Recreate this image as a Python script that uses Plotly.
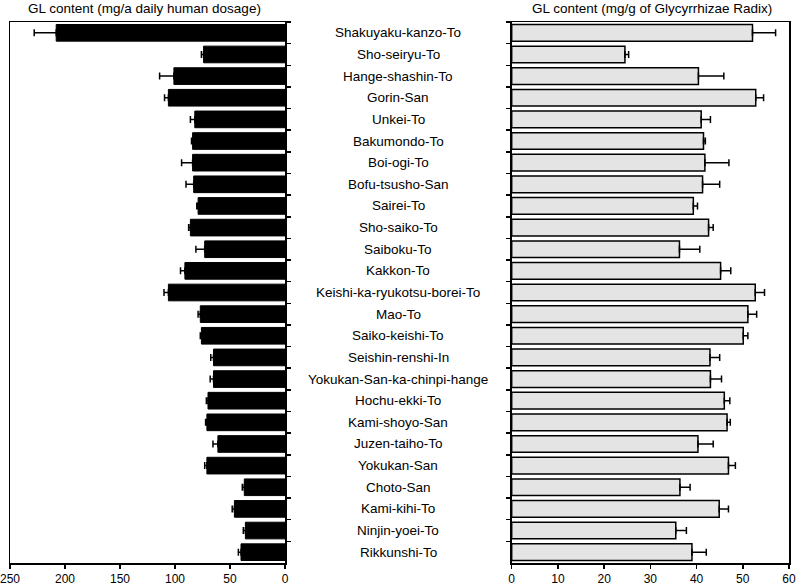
import plotly.graph_objects as go

categories = ["Shakuyaku-kanzo-To", "Sho-seiryu-To", "Hange-shashin-To", "Gorin-San",
              "Unkei-To", "Bakumondo-To", "Boi-ogi-To", "Bofu-tsusho-San", "Sairei-To",
              "Sho-saiko-To", "Saiboku-To", "Kakkon-To", "Keishi-ka-ryukotsu-borei-To",
              "Mao-To", "Saiko-keishi-To", "Seishin-renshi-In", "Yokukan-San-ka-chinpi-hange",
              "Hochu-ekki-To", "Kami-shoyo-San", "Juzen-taiho-To", "Yokukan-San", "Choto-San",
              "Kami-kihi-To", "Ninjin-yoei-To", "Rikkunshi-To"]

dosage_mean = [208, 74, 101, 106, 82, 84, 84, 83, 79, 86, 73, 91, 106,
               77, 76, 65, 65, 70, 71, 61, 71, 37, 46, 36, 40]
dosage_err = [20, 2, 13, 3.5, 4, 1, 10, 7, 1.2, 1.6, 8, 4, 4,
              2, 1, 2.5, 3, 1.5, 1.2, 4.5, 2, 1.8, 2, 1.9, 2.4]

radix_mean = [52.1, 24.5, 40.4, 52.8, 41.0, 41.5, 41.8, 41.3, 39.3, 42.6, 36.3, 45.2, 52.7,
              51.1, 50.1, 42.9, 43.0, 46.0, 46.6, 40.3, 46.9, 36.4, 44.9, 35.5, 39.0]
radix_err = [5.0, 0.8, 5.5, 1.7, 2.0, 0.4, 5.2, 3.7, 0.9, 1.0, 4.4, 2.2, 2.0,
             1.9, 1.0, 2.1, 2.4, 1.2, 0.7, 3.3, 1.5, 2.2, 2.0, 2.3, 3.1]

left_ticks = [0, 50, 100, 150, 200, 250]
right_ticks = [0, 10, 20, 30, 40, 50, 60]

left_title = "GL content (mg/a daily human dosage)"
right_title = "GL content (mg/g of Glycyrrhizae Radix)"

FONT = "Arial, Liberation Sans, sans-serif"
W, H = 798, 586

fig = go.Figure()
fig.add_trace(go.Bar(
    x=dosage_mean, y=categories, orientation="h",
    marker=dict(color="black", line=dict(color="black", width=1)),
    error_x=dict(type="data", array=dosage_err, arrayminus=[0] * len(dosage_err),
                 symmetric=False, color="black", thickness=1.5, width=3.5),
    xaxis="x", yaxis="y", showlegend=False, hoverinfo="skip"))
fig.add_trace(go.Bar(
    x=radix_mean, y=categories, orientation="h",
    marker=dict(color="#e4e4e4", line=dict(color="black", width=1.5)),
    error_x=dict(type="data", array=radix_err, arrayminus=[0] * len(radix_err),
                 symmetric=False, color="black", thickness=1.5, width=3.5),
    xaxis="x2", yaxis="y2", showlegend=False, hoverinfo="skip"))

ydom = [(H - 563) / H, (H - 22) / H]
axis_common = dict(showline=True, linecolor="black", linewidth=1.5, mirror=True,
                   ticks="outside", ticklen=4, tickwidth=1.5, tickcolor="black",
                   showgrid=False, zeroline=False, automargin=False,
                   tickfont=dict(family=FONT, size=12, color="black"))

fig.update_layout(
    template="none",
    width=W, height=H,
    margin=dict(l=0, r=0, t=0, b=0, pad=0, autoexpand=False),
    paper_bgcolor="white", plot_bgcolor="white",
    bargap=0.23,
    xaxis=dict(domain=[10 / W, 285 / W], range=[250, 0], tickvals=left_ticks,
               anchor="y", ticklabeloverflow="allow", **axis_common),
    yaxis=dict(domain=ydom, side="right", autorange="reversed", type="category",
               showticklabels=False, tickson="boundaries", anchor="x", **axis_common),
    xaxis2=dict(domain=[511.7 / W, 789 / W], range=[0, 60], tickvals=right_ticks,
                anchor="y2", ticklabeloverflow="allow", **axis_common),
    yaxis2=dict(domain=ydom, side="left", autorange="reversed", type="category",
                showticklabels=False, tickson="boundaries", anchor="x2", **axis_common),
)

for c in categories:
    fig.add_annotation(x=398 / W, xref="paper", y=c, yref="y", text=c, showarrow=False,
                       xanchor="center", yanchor="middle",
                       font=dict(family=FONT, size=13.5, color="black"))

fig.add_annotation(x=144 / W, y=1 - 8.5 / H, xref="paper", yref="paper", text=left_title,
                   showarrow=False, xanchor="center", yanchor="middle",
                   font=dict(family=FONT, size=13.5, color="black"))
fig.add_annotation(x=652 / W, y=1 - 8.5 / H, xref="paper", yref="paper", text=right_title,
                   showarrow=False, xanchor="center", yanchor="middle",
                   font=dict(family=FONT, size=13.5, color="black"))

fig.write_html("out.html", config={"displayModeBar": False, "staticPlot": True},
               post_script="document.body.style.margin='0';document.body.style.overflow='hidden';")
